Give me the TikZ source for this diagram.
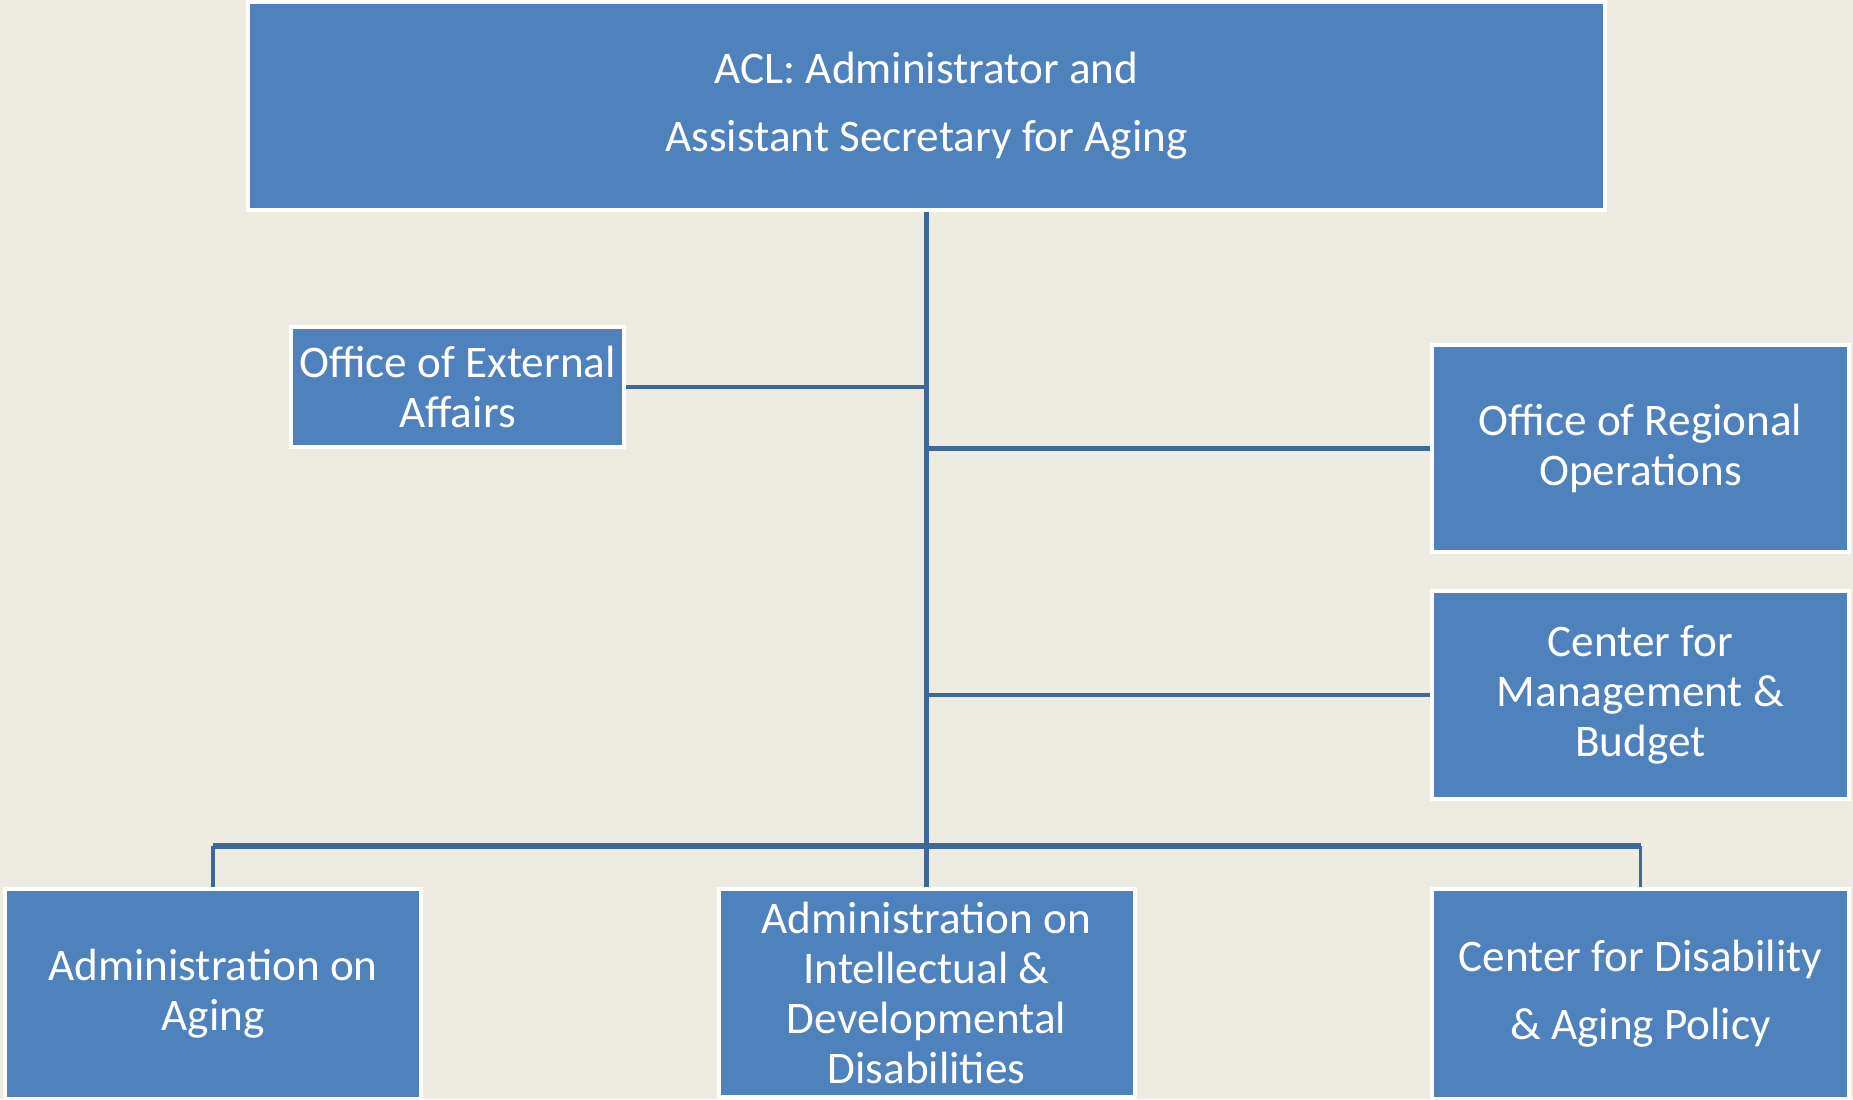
\documentclass[tikz,border=0pt]{standalone}
\usepackage{fontspec}
\setmainfont{Carlito}
\usetikzlibrary{calc}

\definecolor{aclback}{HTML}{EEECE1}
\definecolor{aclblue}{HTML}{4F81BD}
\definecolor{aclline}{HTML}{3F6797}

\begin{document}
\begin{tikzpicture} [x=0.5pt, y=-0.5pt,
  office/.style={draw=white, line width=2pt, fill=aclblue, text=white, align=center,
    inner sep=0pt, font=\fontsize{22.6}{25}\selectfont},
  link/.style={draw=aclline, line width=2.3pt}]

\fill[aclback] (0,0) rectangle (1853,1099);
\useasboundingbox (0,0) rectangle (1853,1099);
\clip (0,0) rectangle (1853,1099);

\node[office, minimum width=678.5pt, minimum height=104pt,
  font=\fontsize{22.6}{34}\selectfont] (acl) at (926.5,106)
  {ACL: Administrator and\\Assistant Secretary for Aging};
\node[office, minimum width=166.5pt, minimum height=60pt] (oea) at (457.5,387)
  {Office of External\\Affairs};
\node[office, minimum width=208.5pt, minimum height=103.5pt] (oro) at (1640.5,448.5)
  {Office of Regional\\Operations};
\node[office, minimum width=208.5pt, minimum height=104pt] (cmb) at (1640.5,695)
  {Center for\\Management \&\\Budget};

\node[office, minimum width=208pt, minimum height=105pt] (aoa) at (213,994)
  {Administration on\\Aging};
\node[office, minimum width=208pt, minimum height=104pt] (aidd) at (926.5,993)
  {Administration on\\Intellectual \&\\Developmental\\Disabilities};
\node[office, minimum width=208.5pt, minimum height=105pt,
  font=\fontsize{22.6}{34}\selectfont] (cdap) at (1640.5,994)
  {Center for Disability\\\& Aging Policy};

\coordinate (bus) at (926.5,846);

\draw[link] (acl.south) -- (aidd.north);
\draw[link] (oea.east) -- (oea.east -| acl.south);
\draw[link] (oro.west) -- (oro.west -| acl.south);
\draw[link] (cmb.west) -- (cmb.west -| acl.south);
\draw[link, line width=3pt] (aoa.north |- bus) -- (cdap.north |- bus);
\draw[link, line width=1.8pt] (aoa.north) -- (aoa.north |- bus);
\draw[link, line width=1.8pt] (cdap.north) -- (cdap.north |- bus);
\end{tikzpicture}
\end{document}
